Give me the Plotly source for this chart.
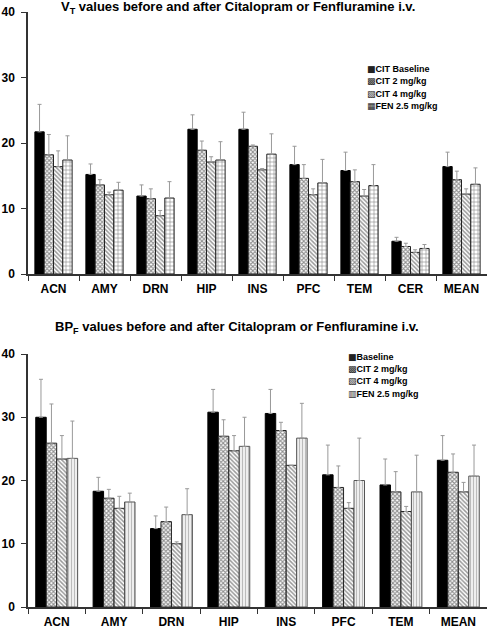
import plotly.graph_objects as go

# ---------------- data ----------------
vt_regions = ["ACN", "AMY", "DRN", "HIP", "INS", "PFC", "TEM", "CER", "MEAN"]
vt_names = ["CIT Baseline", "CIT 2 mg/kg", "CIT 4 mg/kg", "FEN 2.5 mg/kg"]
vt_base = [21.7, 15.2, 11.9, 22.1, 22.1, 16.7, 15.8, 5.0, 16.4]
vt_base_err = [4.2, 1.6, 1.7, 2.2, 2.6, 2.8, 2.8, 0.6, 2.2]
vt_cit2 = [18.2, 13.6, 11.5, 18.9, 19.5, 14.6, 14.1, 4.2, 14.4]
vt_cit2_err = [3.1, 0.8, 1.5, 1.4, 0.2, 2.1, 1.8, 0.5, 1.3]
vt_cit4 = [16.4, 12.1, 8.9, 17.1, 15.9, 12.1, 11.9, 3.3, 12.2]
vt_cit4_err = [2.4, 0.4, 0.8, 0.8, 0.2, 0.9, 1.0, 0.4, 0.8]
vt_fen = [17.4, 12.8, 11.6, 17.4, 18.3, 13.9, 13.5, 3.9, 13.7]
vt_fen_err = [3.7, 1.2, 2.5, 2.8, 3.1, 3.6, 3.2, 0.6, 2.5]

bp_regions = ["ACN", "AMY", "DRN", "HIP", "INS", "PFC", "TEM", "MEAN"]
bp_names = ["Baseline", "CIT 2 mg/kg", "CIT 4 mg/kg", "FEN 2.5 mg/kg"]
bp_base = [30.0, 18.3, 12.4, 30.8, 30.6, 20.9, 19.3, 23.2]
bp_base_err = [6.0, 2.2, 2.0, 3.6, 3.8, 4.7, 4.1, 3.9]
bp_cit2 = [25.9, 17.2, 13.5, 27.0, 27.9, 18.9, 18.2, 21.3]
bp_cit2_err = [6.2, 1.4, 2.3, 2.6, 1.3, 3.4, 3.2, 2.9]
bp_cit4 = [23.4, 15.6, 10.0, 24.7, 22.4, 15.6, 15.1, 18.2]
bp_cit4_err = [3.7, 1.9, 0.3, 2.4, 0.0, 0.9, 0.8, 1.5]
bp_fen = [23.5, 16.6, 14.6, 25.4, 26.7, 20.0, 18.2, 20.7]
bp_fen_err = [5.9, 1.4, 4.1, 4.6, 5.5, 6.7, 5.8, 4.9]

top_legend_glyphs = ["■", "▩", "▧", "▦"]
bot_legend_glyphs = ["■", "▩", "▧", "▥"]

FONT = "Liberation Sans, Arial, sans-serif"

W, H = 487, 632

def py(px):
    return 1 - px / H

styles_top = [
    dict(color="black", line=dict(color="black", width=1)),
    dict(color="white", line=dict(color="#222", width=1),
         pattern=dict(shape="x", fgcolor="#222", bgcolor="white", size=3, solidity=0.6)),
    dict(color="white", line=dict(color="#222", width=1),
         pattern=dict(shape="\\", fgcolor="#333", bgcolor="white", size=3, solidity=0.5)),
    dict(color="white", line=dict(color="#222", width=1),
         pattern=dict(shape="+", fgcolor="#222", bgcolor="white", size=4, solidity=0.3)),
]
styles_bot = [
    dict(color="black", line=dict(color="black", width=1)),
    dict(color="white", line=dict(color="#222", width=1),
         pattern=dict(shape="x", fgcolor="#222", bgcolor="white", size=3, solidity=0.6)),
    dict(color="white", line=dict(color="#222", width=1),
         pattern=dict(shape="\\", fgcolor="#333", bgcolor="white", size=3, solidity=0.5)),
    dict(color="white", line=dict(color="#555", width=1),
         pattern=dict(shape="|", fgcolor="#777", bgcolor="white", size=3, solidity=0.5)),
]

fig = go.Figure()

top_vals = [vt_base, vt_cit2, vt_cit4, vt_fen]
top_errs = [vt_base_err, vt_cit2_err, vt_cit4_err, vt_fen_err]
for name, vals, errs, st in zip(vt_names, top_vals, top_errs, styles_top):
    fig.add_trace(go.Bar(
        x=vt_regions, y=vals, name=name, marker=st, showlegend=False,
        error_y=dict(type="data", array=errs, arrayminus=[0] * len(errs), symmetric=False,
                     color="#999", thickness=1, width=2),
        xaxis="x", yaxis="y",
    ))

bot_vals = [bp_base, bp_cit2, bp_cit4, bp_fen]
bot_errs = [bp_base_err, bp_cit2_err, bp_cit4_err, bp_fen_err]
for name, vals, errs, st in zip(bp_names, bot_vals, bot_errs, styles_bot):
    fig.add_trace(go.Bar(
        x=bp_regions, y=vals, name=name, marker=st, showlegend=False,
        error_y=dict(type="data", array=errs, arrayminus=[0] * len(errs), symmetric=False,
                     color="#999", thickness=1, width=2),
        xaxis="x2", yaxis="y2",
    ))

xcommon = dict(showline=True, linecolor="#333", linewidth=1.5, ticks="outside",
               tickson="boundaries", ticklen=5, tickcolor="#333", showgrid=False,
               ticklabelstandoff=3,
               tickfont=dict(family=FONT, size=12, color="black", weight="bold"),
               automargin=False)
ycommon = dict(showline=True, linecolor="#333", linewidth=1.5, ticks="outside",
               ticklen=5, tickcolor="#333", showgrid=False, zeroline=False,
               ticklabelstandoff=4,
               range=[0, 40], dtick=10,
               tickfont=dict(family=FONT, size=12, color="black", weight="bold"),
               automargin=False)

annotations = [
    dict(text="<b>V<sub>T</sub> values before and after Citalopram or Fenfluramine i.v.</b>",
         x=238 / W, y=py(8), xref="paper", yref="paper", showarrow=False,
         xanchor="center", yanchor="middle", font=dict(family=FONT, size=13, color="black")),
    dict(text="<b>BP<sub>F</sub> values before and after Citalopram or Fenfluramine i.v.</b>",
         x=237 / W, y=py(327), xref="paper", yref="paper", showarrow=False,
         xanchor="center", yanchor="middle", font=dict(family=FONT, size=13, color="black")),
]

GLYPH = "<span style='font-family:DejaVu Sans;color:#222'>{}</span>"
# custom compact legends (text + fill glyphs)
for i, (g, nm) in enumerate(zip(top_legend_glyphs, vt_names)):
    annotations.append(dict(
        text=GLYPH.format(g) + f"<b>{nm}</b>", x=365 / W, y=py(69 + 12.3 * i),
        xref="paper", yref="paper",
        showarrow=False, xanchor="left", yanchor="middle",
        font=dict(family=FONT, size=9, color="black")))
for i, (g, nm) in enumerate(zip(bot_legend_glyphs, bp_names)):
    annotations.append(dict(
        text=GLYPH.format(g) + f"<b>{nm}</b>", x=346 / W, y=py(357 + 12.2 * i),
        xref="paper", yref="paper",
        showarrow=False, xanchor="left", yanchor="middle",
        font=dict(family=FONT, size=9, color="black")))

fig.update_layout(
    width=W, height=H,
    margin=dict(l=0, r=0, t=0, b=0),
    paper_bgcolor="white", plot_bgcolor="white",
    barmode="group", bargap=0.27, bargroupgap=0,
    showlegend=False,
    font=dict(family=FONT, color="black"),
    xaxis=dict(domain=[28 / W, 1], anchor="y", **xcommon),
    yaxis=dict(domain=[py(274), py(12)], anchor="x", **ycommon),
    xaxis2=dict(domain=[28 / W, 1], anchor="y2", **xcommon),
    yaxis2=dict(domain=[py(607), py(354)], anchor="x2", **ycommon),
    annotations=annotations,
)

fig.write_html(
    "out.html",
    config={"displayModeBar": False},
    post_script="document.body.style.margin='0';document.body.style.padding='0';"
                "document.documentElement.style.overflow='hidden';",
)
